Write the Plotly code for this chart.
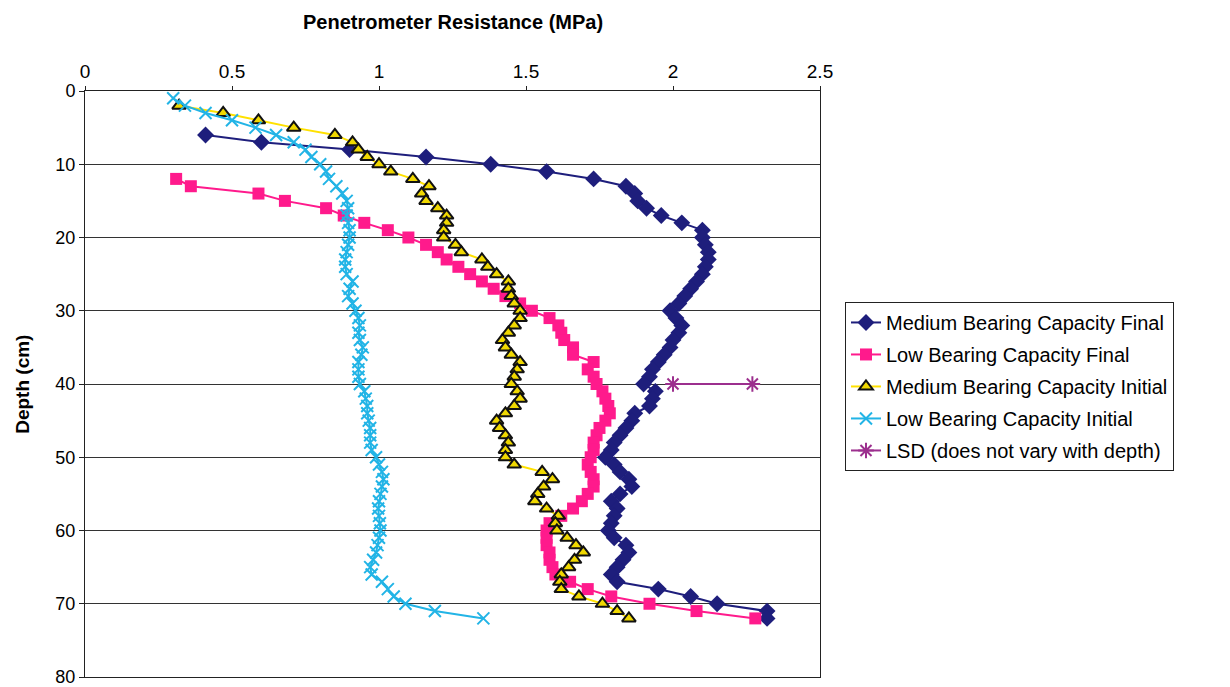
import plotly.graph_objects as go

# ---------------- data ----------------
mf_depth = list(range(6, 73))
mf_res = [0.41, 0.60, 0.90, 1.16, 1.38, 1.57, 1.73, 1.84, 1.87, 1.88,
          1.91, 1.96, 2.03, 2.10, 2.10, 2.11, 2.12, 2.12, 2.11, 2.10,
          2.08, 2.06, 2.04, 2.02, 1.99, 2.01, 2.03, 2.02, 2.00, 1.99,
          1.97, 1.95, 1.93, 1.92, 1.90, 1.94, 1.93, 1.92, 1.87, 1.86,
          1.84, 1.82, 1.80, 1.79, 1.77, 1.80, 1.82, 1.85, 1.86, 1.82,
          1.79, 1.81, 1.80, 1.79, 1.78, 1.80, 1.84, 1.85, 1.83, 1.81,
          1.79, 1.81, 1.95, 2.06, 2.15, 2.32, 2.32]

lf_depth = list(range(12, 73))
lf_res = [0.31, 0.36, 0.59, 0.68, 0.82, 0.88, 0.95, 1.03, 1.10, 1.16,
          1.20, 1.23, 1.27, 1.31, 1.35, 1.39, 1.43, 1.48, 1.52, 1.58,
          1.61, 1.62, 1.63, 1.66, 1.66, 1.73, 1.71, 1.73, 1.74, 1.76,
          1.77, 1.78, 1.785, 1.77, 1.75, 1.74, 1.73, 1.73, 1.72, 1.71,
          1.72, 1.73, 1.73, 1.71, 1.69, 1.66, 1.62, 1.58, 1.57, 1.57,
          1.57, 1.58, 1.58, 1.59, 1.60, 1.65, 1.71, 1.79, 1.92, 2.08,
          2.28]

mi_depth = list(range(2, 73))
mi_res = [0.32, 0.47, 0.59, 0.71, 0.85, 0.91, 0.93, 0.96, 1.00, 1.04,
          1.115, 1.17, 1.145, 1.16, 1.20, 1.23, 1.23, 1.22, 1.22, 1.26,
          1.28, 1.35, 1.37, 1.40, 1.44, 1.44, 1.45, 1.46, 1.48, 1.48,
          1.46, 1.44, 1.42, 1.43, 1.45, 1.48, 1.47, 1.46, 1.45, 1.47,
          1.48, 1.46, 1.43, 1.40, 1.41, 1.43, 1.44, 1.43, 1.43, 1.46,
          1.555, 1.59, 1.56, 1.54, 1.53, 1.57, 1.61, 1.60, 1.605, 1.64,
          1.67, 1.695, 1.665, 1.645, 1.62, 1.615, 1.62, 1.68, 1.76, 1.81,
          1.85]

li_depth = list(range(1, 73))
li_res = [0.30, 0.34, 0.41, 0.50, 0.58, 0.65, 0.71, 0.75, 0.77, 0.80,
          0.82, 0.83, 0.855, 0.875, 0.89, 0.895, 0.89, 0.895, 0.90, 0.90,
          0.895, 0.89, 0.885, 0.885, 0.89, 0.91, 0.90, 0.895, 0.91, 0.92,
          0.93, 0.935, 0.93, 0.935, 0.945, 0.94, 0.93, 0.93, 0.93, 0.935,
          0.95, 0.955, 0.96, 0.96, 0.965, 0.97, 0.97, 0.97, 0.975, 0.99,
          1.00, 1.01, 1.015, 1.01, 1.005, 1.00, 0.997, 1.00, 1.003, 1.005,
          1.00, 0.995, 0.99, 0.98, 0.97, 0.975, 1.01, 1.03, 1.05, 1.09,
          1.19, 1.355]

lsd_depth = [40, 40]
lsd_res = [2.00, 2.27]

x_ticks = [0, 0.5, 1, 1.5, 2, 2.5]
x_tick_labels = ["0", "0.5", "1", "1.5", "2", "2.5"]
y_ticks = [0, 10, 20, 30, 40, 50, 60, 70, 80]

names = ["Medium Bearing Capacity Final", "Low Bearing Capacity Final",
         "Medium Bearing Capacity Initial", "Low Bearing Capacity Initial",
         "LSD (does not vary with depth)"]

# ---------------- figure ----------------
FONT = "Liberation Sans, Arial, sans-serif"
fig = go.Figure()

fig.add_trace(go.Scatter(
    x=mf_res, y=mf_depth, name=names[0], mode="lines+markers", legendgroup="a",
    line=dict(color="#1e1e7c", width=2),
    marker=dict(symbol="diamond", size=13, color="#1e1e7c")))
fig.add_trace(go.Scatter(
    x=lf_res, y=lf_depth, name=names[1], mode="lines+markers", legendgroup="b",
    line=dict(color="#ff1a8c", width=2),
    marker=dict(symbol="square", size=12, color="#ff1a8c")))
fig.add_trace(go.Scatter(
    x=mi_res, y=mi_depth, name=names[2], mode="lines+markers", legendgroup="c",
    line=dict(color="#ffe100", width=2),
    marker=dict(symbol="triangle-up", size=12, color="#f0d800",
                line=dict(color="#111111", width=2))))
fig.add_trace(go.Scatter(
    x=li_res, y=li_depth, name=names[3], mode="lines+markers", legendgroup="d",
    line=dict(color="#22b4e6", width=2),
    marker=dict(symbol="x-thin-open", size=12, color="#22b4e6",
                line=dict(color="#22b4e6", width=2))))
fig.add_trace(go.Scatter(
    x=lsd_res, y=lsd_depth, name=names[4], mode="lines+markers", legendgroup="e",
    line=dict(color="#9c2f8e", width=2),
    marker=dict(symbol="asterisk-open", size=13, color="#9c2f8e",
                line=dict(color="#9c2f8e", width=2))))

fig.update_layout(
    width=1230, height=687,
    margin=dict(l=85, r=410, t=91, b=10),
    paper_bgcolor="white", plot_bgcolor="white",
    font=dict(family=FONT, size=19, color="black"),
    showlegend=True,
    legend=dict(x=1.034, y=0.64, xanchor="left", yanchor="top",
                bordercolor="#222222", borderwidth=1,
                font=dict(family=FONT, size=20, color="black"),
                traceorder="grouped", tracegroupgap=3,
                bgcolor="white"),
    xaxis=dict(side="top", range=[0, 2.5], tickvals=x_ticks, ticktext=x_tick_labels,
               showgrid=False, zeroline=False, showline=True, linecolor="#222222",
               linewidth=1, mirror=True, ticks="outside", ticklen=4,
               tickcolor="#222222", tickfont=dict(size=19), automargin=False),
    yaxis=dict(range=[80, 0], tickvals=y_ticks, showgrid=True, gridcolor="#333333",
               gridwidth=1, zeroline=False, showline=True, linecolor="#222222",
               linewidth=1, mirror=True, ticks="outside", ticklen=5,
               tickcolor="#222222", tickfont=dict(size=18),
               ticklabeloverflow="allow", automargin=False),
    annotations=[
        dict(text="<b>Penetrometer Resistance (MPa)</b>", xref="paper", yref="paper",
             x=0.5, y=1.117, xanchor="center", yanchor="middle", showarrow=False,
             font=dict(family=FONT, size=20, color="black")),
        dict(text="<b>Depth (cm)</b>", xref="paper", yref="paper",
             x=-0.086, y=0.5, xanchor="center", yanchor="middle", showarrow=False,
             textangle=-90, font=dict(family=FONT, size=19, color="black")),
    ],
)

fig.write_html("out.html")
